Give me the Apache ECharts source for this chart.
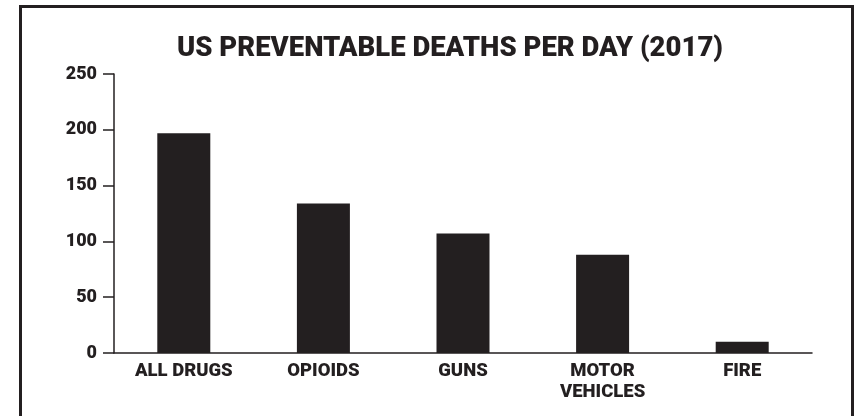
<!DOCTYPE html>
<html>
<head>
<meta charset="utf-8">
<script src="https://cdn.jsdelivr.net/npm/echarts@6/dist/echarts.min.js"></script>
<style>
html,body{margin:0;padding:0;background:#fff;}
#main{width:855px;height:416px;}
</style>
</head>
<body>
<div id="main"></div>
<script>
const titleText = 'US PREVENTABLE DEATHS PER DAY (2017)';
const categories = ['ALL DRUGS', 'OPIOIDS', 'GUNS', 'MOTOR\nVEHICLES', 'FIRE'];
const deathsPerDay = [197, 134, 107, 88, 10];
const yTicks = [0, 50, 100, 150, 200, 250];

const ink = '#231f20';
const chart = echarts.init(document.getElementById('main'));
chart.setOption({
  backgroundColor: '#fff',
  animation: false,
  graphic: [{
    type: 'rect',
    shape: { x: 20.5, y: 6.5, width: 832, height: 430 },
    style: { fill: 'none', stroke: ink, lineWidth: 3 }
  }],
  title: {
    text: titleText,
    left: 177,
    top: 35,
    padding: 0,
    textStyle: { fontFamily: 'Roboto', fontWeight: 900, fontSize: 27.5, color: ink }
  },
  grid: { left: 114, right: 43, top: 74, bottom: 63, containLabel: false },
  xAxis: {
    type: 'category',
    data: categories,
    axisLine: { lineStyle: { color: ink, width: 1.5 } },
    axisTick: { length: 9, lineStyle: { color: ink, width: 1.5 } },
    axisLabel: { margin: 8, color: ink, fontFamily: 'Roboto', fontWeight: 900, fontSize: 18.5, lineHeight: 21 }
  },
  yAxis: {
    type: 'value',
    min: yTicks[0],
    max: yTicks[yTicks.length - 1],
    interval: yTicks[1] - yTicks[0],
    splitLine: { show: false },
    axisLine: { show: true, lineStyle: { color: ink, width: 1.5 } },
    axisTick: { show: true, length: 11, lineStyle: { color: ink, width: 1.5 } },
    axisLabel: { margin: 17, color: ink, fontFamily: 'Roboto', fontWeight: 900, fontSize: 18 }
  },
  series: [{
    type: 'bar',
    data: deathsPerDay,
    barWidth: 53,
    itemStyle: { color: ink }
  }]
});
</script>
</body>
</html>
